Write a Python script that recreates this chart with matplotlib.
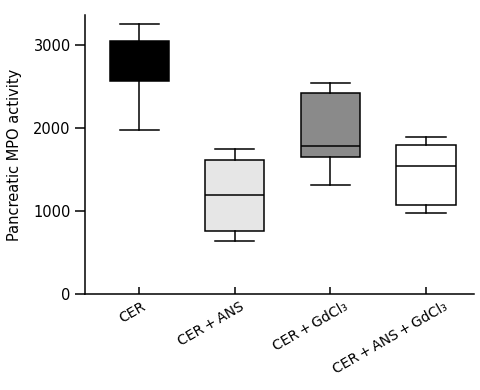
import matplotlib.pyplot as plt
from matplotlib import transforms

# values
groups = ["CER", "CER\u2009+\u2009ANS", "CER\u2009+\u2009GdCl₃", "CER\u2009+\u2009ANS\u2009+\u2009GdCl₃"]
whisk_lo = [1985, 644, 1321, 982]
q1 = [2573, 765, 1655, 1079]
med = [2800, 1200, 1792, 1550]
q3 = [3057, 1619, 2428, 1800]
whisk_hi = [3262, 1752, 2549, 1900]
fills = ["#000000", "#e6e6e6", "#8a8a8a", "#ffffff"]

stats = []
for i in range(len(groups)):
    stats.append({"whislo": whisk_lo[i], "q1": q1[i], "med": med[i],
                  "q3": q3[i], "whishi": whisk_hi[i], "label": groups[i]})

fig = plt.figure(figsize=(4.81, 3.90), dpi=100)
ax = fig.add_axes([0.176, 0.245, 0.809, 0.7165])

lw = 1.1
bp = ax.bxp(stats, positions=[1, 2, 3, 4], widths=0.62, showfliers=False,
            patch_artist=True,
            boxprops=dict(linewidth=lw, edgecolor="black"),
            whiskerprops=dict(linewidth=lw, color="black"),
            capprops=dict(linewidth=lw, color="black"),
            medianprops=dict(linewidth=lw, color="black"),
            capwidths=0.41)
for patch, c in zip(bp["boxes"], fills):
    patch.set_facecolor(c)

ax.set_xlim(0.43, 4.5)
ax.set_ylim(0, 3365)
ax.set_yticks([0, 1000, 2000, 3000])
ax.set_ylabel("Pancreatic MPO activity", fontsize=10.5, labelpad=8)

for s in ["top", "right"]:
    ax.spines[s].set_visible(False)
for s in ["left", "bottom"]:
    ax.spines[s].set_linewidth(lw)

ax.tick_params(axis="y", direction="out", length=7, width=lw, labelsize=10.5, pad=3)
ax.tick_params(axis="x", direction="in", length=5, width=lw)

ax.set_xticks([1, 2, 3, 4])
ax.set_xticklabels(groups, rotation=30, ha="right", rotation_mode="anchor", fontsize=10)
# labels sit a bit further right the longer they are
shifts = [2, 5, 13, 17]
for lab, dx in zip(ax.get_xticklabels(), shifts):
    off = transforms.ScaledTranslation(dx / 100, 0, fig.dpi_scale_trans)
    lab.set_transform(lab.get_transform() + off)

fig.savefig("out.png", dpi=100)
